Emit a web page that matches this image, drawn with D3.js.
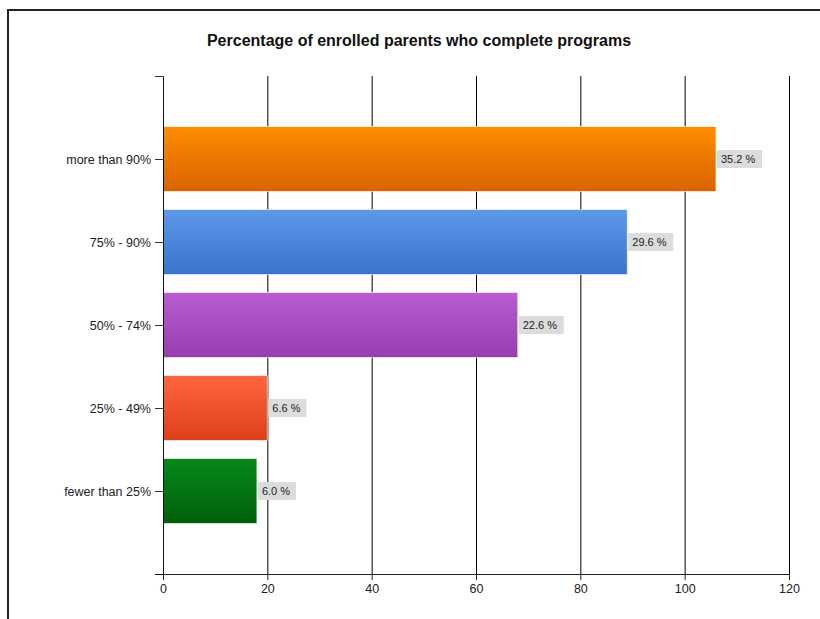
<!DOCTYPE html>
<html>
<head>
<meta charset="utf-8">
<script src="https://cdn.jsdelivr.net/npm/d3@7"></script>
<style>
  body { margin: 0; background: #fff; }
  text { font-family: "Liberation Sans", Arial, sans-serif; }
</style>
</head>
<body>
<div id="chart"></div>
<script>
// categories, top to bottom
var categories = ["more than 90%", "75% - 90%", "50% - 74%", "25% - 49%", "fewer than 25%"];
// bar lengths (counts) and the percent labels shown next to them
var counts = [106, 89, 68, 20, 18];
var percents = ["35.2 %", "29.6 %", "22.6 %", "6.6 %", "6.0 %"];
// gradient colours: top, bottom
var topColors = ["#ff8c00", "#5e98ea", "#bb5cd2", "#ff6541", "#06881a"];
var bottomColors = ["#d96400", "#3a73cd", "#963eae", "#dd4019", "#00600a"];
var xTicks = [0, 20, 40, 60, 80, 100, 120];

var W = 820, H = 619;
var plotLeft = 163, plotRight = 789, plotTop = 76, plotBottom = 574;

var svg = d3.select("#chart").append("svg")
  .attr("width", W)
  .attr("height", H);

// outer frame
svg.append("rect")
  .attr("x", 8).attr("y", 10)
  .attr("width", 840).attr("height", 700)
  .attr("fill", "#fff")
  .attr("stroke", "#222")
  .attr("stroke-width", 2);

svg.append("text")
  .attr("x", 419).attr("y", 46)
  .attr("text-anchor", "middle")
  .attr("font-size", 16)
  .attr("font-weight", "bold")
  .attr("fill", "#111")
  .text("Percentage of enrolled parents who complete programs");

var x = d3.scaleLinear().domain([0, 120]).range([plotLeft, plotRight]);
// categories sit at 1..5 on a 0..6 slot scale, top first
var y = d3.scaleLinear().domain([0, 6]).range([plotTop, plotBottom]);
var barH = 65;

var defs = svg.append("defs");
categories.forEach(function(c, i) {
  var g = defs.append("linearGradient")
    .attr("id", "grad" + i)
    .attr("x1", 0).attr("y1", 0).attr("x2", 0).attr("y2", 1);
  g.append("stop").attr("offset", "0%").attr("stop-color", topColors[i]);
  g.append("stop").attr("offset", "100%").attr("stop-color", bottomColors[i]);
});

// gridlines
svg.append("g").selectAll("line")
  .data(xTicks.slice(1))
  .enter()
  .append("line")
  .attr("x1", d => x(d) + 0.5).attr("x2", d => x(d) + 0.5)
  .attr("y1", plotTop).attr("y2", plotBottom)
  .attr("stroke", "#000")
  .attr("stroke-width", 1);

// bars
var data = categories.map(function(c, i) { return {cat: c, v: counts[i], lab: percents[i], i: i}; });

svg.append("g").selectAll("rect")
  .data(data)
  .enter()
  .append("rect")
  .attr("x", x(0))
  .attr("y", d => y(d.i + 1) - barH / 2)
  .attr("width", d => x(d.v) - x(0))
  .attr("height", barH)
  .attr("fill", d => "url(#grad" + d.i + ")")
  .attr("stroke", "rgba(255,255,255,0.6)")
  .attr("stroke-width", 1);

// value labels
var labs = svg.append("g").selectAll("g")
  .data(data)
  .enter()
  .append("g")
  .attr("transform", d => "translate(" + (x(d.v) + 1) + "," + y(d.i + 1) + ")");
labs.append("rect")
  .attr("x", 0).attr("y", -9)
  .attr("width", d => d.lab.length > 5 ? 45 : 38)
  .attr("height", 18)
  .attr("fill", "#dcdcdc");
labs.append("text")
  .attr("x", 4).attr("y", 4)
  .attr("font-size", 11)
  .attr("fill", "#222")
  .text(d => d.lab);

// x axis
var xAxis = svg.append("g")
  .attr("transform", "translate(0," + plotBottom + ")")
  .call(d3.axisBottom(x).tickValues(xTicks).tickSizeOuter(0).tickSize(6).tickPadding(4));
xAxis.select(".domain").remove();
xAxis.append("line")
  .attr("x1", plotLeft - 8).attr("x2", plotRight)
  .attr("y1", 0.5).attr("y2", 0.5)
  .attr("stroke", "#333");
xAxis.selectAll("line").attr("stroke", "#222");
xAxis.selectAll("text")
  .attr("font-size", 12.5)
  .attr("fill", "#222")
  .style("font-family", "'Liberation Sans', Arial, sans-serif");

// y axis
var yAxis = svg.append("g")
  .attr("transform", "translate(" + plotLeft + ",0)")
  .call(d3.axisLeft(y).tickValues([0, 1, 2, 3, 4, 5]).tickSizeOuter(0).tickSize(8).tickPadding(4)
    .tickFormat(d => d >= 1 ? categories[d - 1] : ""));
yAxis.select(".domain").attr("stroke", "#111");
yAxis.selectAll("line").attr("stroke", "#333");
yAxis.selectAll("text")
  .attr("font-size", 12.5)
  .attr("fill", "#222")
  .style("font-family", "'Liberation Sans', Arial, sans-serif");
</script>
</body>
</html>
